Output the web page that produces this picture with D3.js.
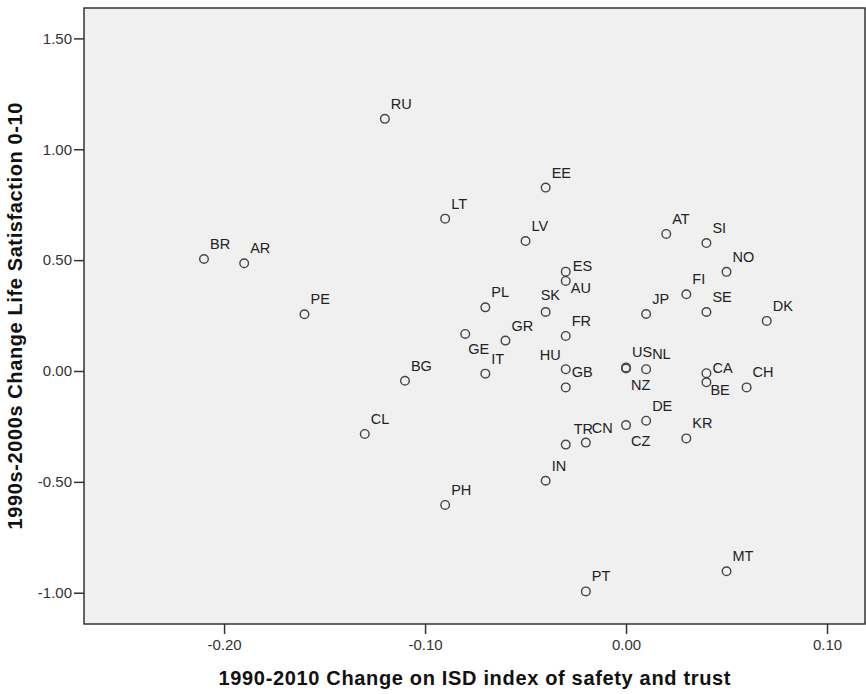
<!DOCTYPE html>
<html lang="en">
<head>
    <meta charset="UTF-8">
    <title>Change in life satisfaction vs safety and trust</title>
    <script src="https://d3js.org/d3.v7.min.js"></script>
    <style>
        body {
            margin: 0;
            background-color: #ffffff;
        }
        svg text {
            font-family: "Liberation Sans", Arial, sans-serif;
        }
        .tick text {
            font-size: 15px;
            fill: #333;
        }
        .pt-label {
            font-size: 14.5px;
            fill: #222;
        }
        .axis-title {
            font-size: 20px;
            font-weight: bold;
            fill: #111;
        }
    </style>
</head>
<body>
    <svg id="chart" width="866" height="694"></svg>
    <script>
        // country codes and the two change scores
        const countries = ["BR", "AR", "PE", "RU", "LT", "EE", "LV", "ES", "AU", "PL",
            "SK", "GR", "GE", "IT", "FR", "HU", "GB", "BG", "CL", "PH",
            "IN", "TR", "CN", "CZ", "DE", "PT", "US", "NZ", "NL", "JP",
            "AT", "SI", "NO", "FI", "SE", "DK", "CA", "BE", "CH", "KR", "MT"];
        const trustChange = [-0.21, -0.19, -0.16, -0.12, -0.09, -0.04, -0.05, -0.03, -0.03, -0.07,
            -0.04, -0.06, -0.08, -0.07, -0.03, -0.03, -0.03, -0.11, -0.13, -0.09,
            -0.04, -0.03, -0.02, 0.00, 0.01, -0.02, 0.00, 0.00, 0.01, 0.01,
            0.02, 0.04, 0.05, 0.03, 0.04, 0.07, 0.04, 0.04, 0.06, 0.03, 0.05];
        const lifeSatChange = [0.505, 0.486, 0.256, 1.137, 0.687, 0.827, 0.586, 0.448, 0.406, 0.287,
            0.266, 0.137, 0.167, -0.012, 0.158, 0.008, -0.074, -0.044, -0.284, -0.604,
            -0.495, -0.332, -0.323, -0.244, -0.224, -0.994, 0.016, 0.011, 0.008, 0.257,
            0.618, 0.577, 0.447, 0.346, 0.266, 0.226, -0.010, -0.051, -0.074, -0.304, -0.903];

        const xTicks = [-0.20, -0.10, 0.00, 0.10];
        const yTicks = [-1.00, -0.50, 0.00, 0.50, 1.00, 1.50];

        // labels that were moved off the default upper-right spot
        const labelNudge = {
            HU: [-5, -9, "end"],
            SK: [-5, -12, "start"],
            GE: [3, 20, "start"],
            AU: [5, 12, "start"],
            ES: [7, -1, "start"],
            CA: [6, 0, "start"],
            BE: [4, 13, "start"],
            NZ: [5, 21, "start"],
            CZ: [5, 21, "start"],
            TR: [8, -11, "start"]
        };

        const margin = {left: 84, right: 1, top: 8, bottom: 70};
        const W = 866, H = 694;

        const x = d3.scaleLinear().domain([-0.2697, 0.1189]).range([margin.left, W - margin.right]);
        const y = d3.scaleLinear().domain([-1.141, 1.637]).range([H - margin.bottom, margin.top]);

        const svg = d3.select("#chart");

        svg.append("rect")
            .attr("x", x.range()[0])
            .attr("y", y.range()[1])
            .attr("width", x.range()[1] - x.range()[0])
            .attr("height", y.range()[0] - y.range()[1])
            .attr("fill", "#f0f0f0");

        const fmt = d => d3.format(".2f")(d).replace("−", "-");

        const xAxis = svg.append("g")
            .attr("transform", `translate(0,${y.range()[0]})`)
            .call(d3.axisBottom(x).tickValues(xTicks).tickFormat(fmt).tickSize(10).tickPadding(5));
        const yAxis = svg.append("g")
            .attr("transform", `translate(${x.range()[0]},0)`)
            .call(d3.axisLeft(y).tickValues(yTicks).tickFormat(fmt).tickSize(10).tickPadding(2));
        [xAxis, yAxis].forEach(a => {
            a.attr("font-family", null).attr("font-size", null);
            a.select(".domain").remove();
            a.selectAll(".tick line").attr("stroke", "#333").attr("stroke-width", 1.5);
        });

        // frame
        svg.append("rect")
            .attr("x", x.range()[0])
            .attr("y", y.range()[1])
            .attr("width", x.range()[1] - x.range()[0])
            .attr("height", y.range()[0] - y.range()[1])
            .attr("fill", "none")
            .attr("stroke", "#333")
            .attr("stroke-width", 1.5);

        const points = countries.map((c, i) => ({code: c, tx: trustChange[i], ls: lifeSatChange[i]}));

        svg.append("g").selectAll("circle")
            .data(points)
            .join("circle")
            .attr("cx", d => x(d.tx))
            .attr("cy", d => y(d.ls))
            .attr("r", 4.3)
            .attr("fill", "none")
            .attr("stroke", "#444")
            .attr("stroke-width", 1.4);

        svg.append("g").selectAll("text")
            .data(points)
            .join("text")
            .attr("class", "pt-label")
            .attr("x", d => x(d.tx) + (labelNudge[d.code] ? labelNudge[d.code][0] : 6))
            .attr("y", d => y(d.ls) + (labelNudge[d.code] ? labelNudge[d.code][1] : -10))
            .attr("text-anchor", d => labelNudge[d.code] ? labelNudge[d.code][2] : "start")
            .text(d => d.code);

        svg.append("text")
            .attr("class", "axis-title")
            .attr("x", (x.range()[0] + x.range()[1]) / 2)
            .attr("y", 685)
            .attr("text-anchor", "middle")
            .attr("textLength", 512)
            .attr("lengthAdjust", "spacing")
            .text("1990-2010 Change on ISD index of safety and trust");

        svg.append("text")
            .attr("class", "axis-title")
            .attr("transform", `translate(22,${(y.range()[0] + y.range()[1]) / 2}) rotate(-90)`)
            .attr("text-anchor", "middle")
            .attr("textLength", 427)
            .attr("lengthAdjust", "spacing")
            .text("1990s-2000s Change Life Satisfaction 0-10");
    </script>
</body>
</html>
